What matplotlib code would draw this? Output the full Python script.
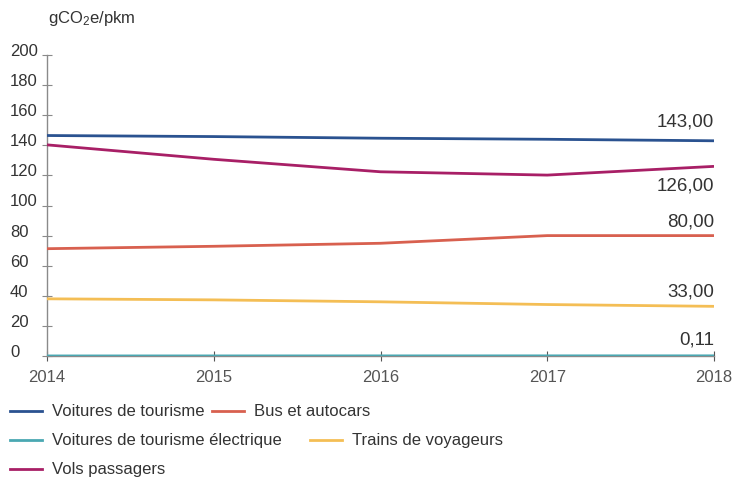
import matplotlib
matplotlib.use("Agg")
import matplotlib.pyplot as plt
from matplotlib.lines import Line2D
import matplotlib.transforms as mtransforms

plt.rcParams['font.family'] = ['Liberation Sans', 'DejaVu Sans']
plt.rcParams['mathtext.default'] = 'regular'

years = [2014, 2015, 2016, 2017, 2018]
voitures = [146.5, 145.8, 144.7, 144.0, 143.0]
bus = [71.3, 72.9, 74.9, 80.0, 80.0]
electrique = [0.04, 0.06, 0.08, 0.10, 0.11]
trains = [38.0, 37.3, 36.0, 34.2, 33.0]
vols = [140.3, 130.7, 122.4, 120.2, 126.0]

labels = ["Voitures de tourisme", "Bus et autocars",
          "Voitures de tourisme électrique", "Trains de voyageurs",
          "Vols passagers"]
colors = ["#2A5290", "#D8604F", "#4AA8B2", "#F4BE55", "#A81F66"]
end_labels = ["143,00", "80,00", "0,11", "33,00", "126,00"]
yticks = list(range(0, 201, 20))

W, H = 734, 481
fig = plt.figure(figsize=(W / 100, H / 100), dpi=100)
ax = fig.add_axes([47 / W, 1 - 357 / H, (714 - 47) / W, (357 - 56) / H])

series = [voitures, bus, electrique, trains, vols]
for vals, c in zip(series, colors):
    ax.plot(years, vals, color=c, lw=2.0, solid_capstyle='butt', zorder=3)

ax.set_xlim(2014, 2018)
ax.set_ylim(0, 200)
for s in ['top', 'right']:
    ax.spines[s].set_visible(False)
for s in ['left', 'bottom']:
    ax.spines[s].set_color('#8a8a8a')
    ax.spines[s].set_linewidth(1.0)

ax.set_xticks(years)
ax.set_xticklabels([str(y) for y in years], fontsize=12, color='#555555')
ax.tick_params(axis='x', direction='inout', length=7, width=0.8, color='#555555', pad=6)
ax.set_yticks(yticks)
ax.set_yticklabels([])
ax.tick_params(axis='y', direction='inout', length=7, width=0.8, color='#8a8a8a')

# y tick labels: left aligned, slightly above ticks
trans = mtransforms.blended_transform_factory(fig.transFigure, ax.transData)
for v in yticks:
    ax.text(10 / W, v + 3, str(v), transform=trans, ha='left', va='center',
            fontsize=12, color='#333333')

# end value labels
offsets = {"143,00": 13, "126,00": -12.5, "80,00": 9.5, "33,00": 10, "0,11": 11}
for vals, lab in zip(series, end_labels):
    ax.text(2018, vals[-1] + offsets[lab], lab, ha='right', va='center',
            fontsize=13.5, color='#333333')

fig.text(48 / W, 1 - 18 / H, "gCO$_2$e/pkm", ha='left', va='center',
         fontsize=12, color='#333333')

# legend
legend_pos = [(10, 412), (212, 412), (10, 441), (310, 441), (10, 470)]
for (x, y), lab, c in zip(legend_pos, labels, colors):
    fig.add_artist(Line2D([x / W, (x + 32) / W], [1 - y / H, 1 - y / H],
                          color=c, lw=2.0, transform=fig.transFigure))
    fig.text((x + 42) / W, 1 - y / H, lab, ha='left', va='center',
             fontsize=12, color='#333333')

fig.savefig("out.png", dpi=100)
